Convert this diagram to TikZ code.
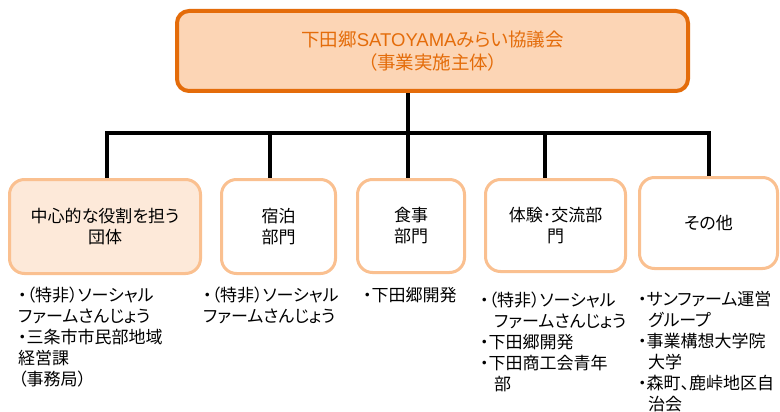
\documentclass[tikz,border=0pt]{standalone}
\usepackage{fontspec}
\setmainfont{Noto Sans CJK JP}[RawFeature=+palt]
\newfontfamily\latfont{Liberation Sans}
\definecolor{topor}{HTML}{E46C0A}
\definecolor{topfill}{HTML}{FCD5B5}
\definecolor{subor}{HTML}{FAC090}
\definecolor{subfill}{HTML}{FDE9D9}
\begin{document}
\begin{tikzpicture}[x=1pt,y=-1pt,
 topbox/.style={draw=topor, fill=topfill, line width=4pt, rounded corners=12pt,
   minimum width=511pt, minimum height=80pt, inner sep=0pt, align=center,
   text=topor, font=\fontsize{18.5}{23}\selectfont},
 subbox/.style={draw=subor, fill=white, line width=3pt, rounded corners=15pt, inner sep=0pt,
   align=center, font=\fontsize{17}{21}\selectfont},
 conn/.style={line width=4pt, black},
 listtext/.style={anchor=north west, inner sep=0pt, align=left,
   font=\fontsize{17}{21}\selectfont}]
\useasboundingbox[fill=white] (0,0) rectangle (780,412);

\node[topbox] (top) at (432.5,51) {下田郷{\latfont SATOYAMA}みらい協議会\\（事業実施主体）};

\node[subbox, fill=subfill, minimum width=191pt, minimum height=94pt] (b1) at (105,226.5) {中心的な役割を担う\\団体};
\node[subbox, minimum width=114pt, minimum height=94pt] (b2) at (278.5,226.5) {宿泊\\部門};
\node[subbox, minimum width=107pt, minimum height=93pt] (b3) at (411,226) {食事\\部門};
\node[subbox, minimum width=140pt, minimum height=92pt] (b4) at (555.5,225.5) {体験･交流部\\門};
\node[subbox, minimum width=138pt, minimum height=91pt] (b5) at (708.5,223) {その他};

\coordinate (j1) at (107,133);
\coordinate (j2) at (270,133);
\coordinate (j3) at (408,133);
\coordinate (j4) at (545,133);
\coordinate (j5) at (709,133);

\draw[conn] (top.south -| j3) -- (j3);
\draw[conn] (j1 |- b1.north) -- (j1) -- (j5) -- (j5 |- b5.north);
\draw[conn] (j2) -- (j2 |- b2.north);
\draw[conn] (j3) -- (j3 |- b3.north);
\draw[conn] (j4) -- (j4 |- b4.north);

\node[listtext] (l1) at (18,287) {・（特非）ソーシャル\\ファームさんじょう\\・三条市市民部地域\\経営課\\（事務局）};
\node[listtext] (l2) at (203,287) {・（特非）ソーシャル\\ファームさんじょう};
\node[listtext] (l3) at (363,287) {・下田郷開発};
\node[listtext] (l4) at (480,292) {・（特非）ソーシャル\\\hspace*{14pt}ファームさんじょう\\・下田郷開発\\・下田商工会青年\\\hspace*{14pt}部};
\node[listtext] (l5) at (638,291) {・サンファーム運営\\\hspace*{10pt}グループ\\・事業構想大学院\\\hspace*{10pt}大学\\・森町、鹿峠地区自\\\hspace*{10pt}治会};
\end{tikzpicture}
\end{document}
